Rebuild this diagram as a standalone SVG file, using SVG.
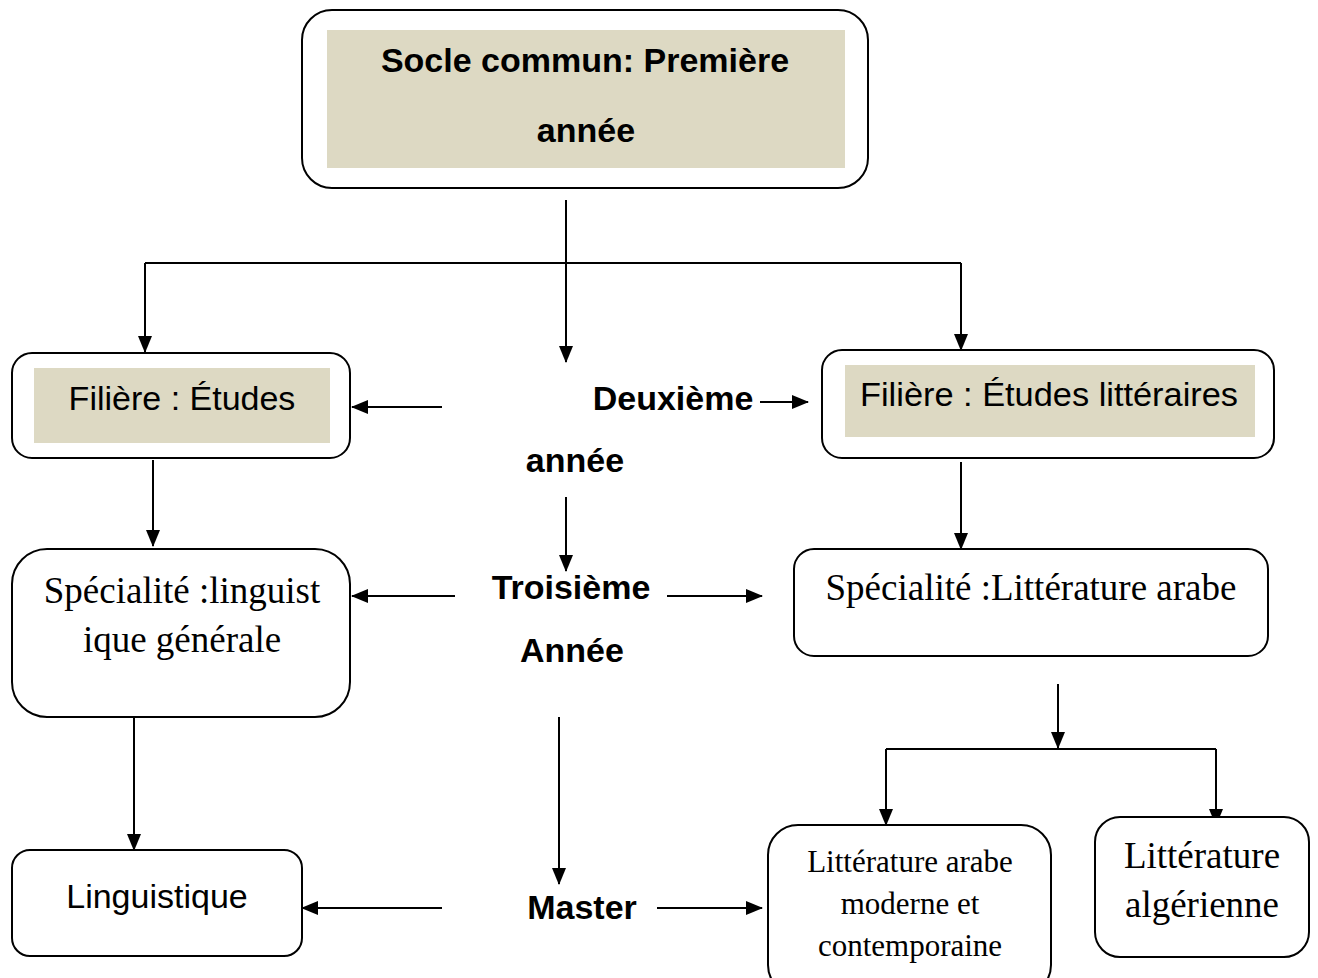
<svg xmlns="http://www.w3.org/2000/svg" width="1318" height="978" viewBox="0 0 1318 978">
<style>
.box{fill:#fff;stroke:#000;stroke-width:2}
.fill{fill:#DDD9C3}
.b{font-family:"Liberation Sans",Arial,sans-serif;font-weight:bold;font-size:34px;fill:#000}
.s{font-family:"Liberation Sans",Arial,sans-serif;font-size:34px;fill:#000}
.t{font-family:"Liberation Serif","Times New Roman",serif;font-size:37px;fill:#000}
.ln{fill:none;stroke:#000;stroke-width:2}
</style>
<defs>
<marker id="ah" viewBox="0 0 17 16" refX="16" refY="8" markerWidth="17" markerHeight="16" markerUnits="userSpaceOnUse" orient="auto">
<path d="M0,1 L17,8 L0,15 Z" fill="#000"/>
</marker>
</defs>
<rect width="1318" height="978" fill="#fff"/>

<g id="connectors">
<path class="ln" d="M566,200 V362" marker-end="url(#ah)"/>
<path class="ln" d="M145,263 H961"/>
<path class="ln" d="M145,263 V352" marker-end="url(#ah)"/>
<path class="ln" d="M961,263 V350" marker-end="url(#ah)"/>
<path class="ln" d="M442,407 H352" marker-end="url(#ah)"/>
<path class="ln" d="M760,402 H808" marker-end="url(#ah)"/>
<path class="ln" d="M153,460 V546" marker-end="url(#ah)"/>
<path class="ln" d="M961,462 V549" marker-end="url(#ah)"/>
<path class="ln" d="M566,497 V571" marker-end="url(#ah)"/>
<path class="ln" d="M455,596 H352" marker-end="url(#ah)"/>
<path class="ln" d="M667,596 H762" marker-end="url(#ah)"/>
<path class="ln" d="M1058,684 V748" marker-end="url(#ah)"/>
<path class="ln" d="M886,749 H1216"/>
<path class="ln" d="M886,749 V825" marker-end="url(#ah)"/>
<path class="ln" d="M1216,749 V825" marker-end="url(#ah)"/>
<path class="ln" d="M134,718 V850" marker-end="url(#ah)"/>
<path class="ln" d="M559,717 V884" marker-end="url(#ah)"/>
<path class="ln" d="M442,908 H302" marker-end="url(#ah)"/>
<path class="ln" d="M657,908 H762" marker-end="url(#ah)"/>
</g>

<g id="socle">
<rect class="box" x="302" y="10" width="566" height="178" rx="30"/>
<rect class="fill" x="327" y="30" width="518" height="138"/>
<text class="b" x="585" y="72" text-anchor="middle">Socle commun: Première</text>
<text class="b" x="586" y="142" text-anchor="middle">année</text>
</g>

<g id="filiere-etudes">
<rect class="box" x="12" y="353" width="338" height="105" rx="20"/>
<rect class="fill" x="34" y="368" width="296" height="75"/>
<text class="s" x="182" y="410" text-anchor="middle">Filière : Études</text>
</g>

<g id="deuxieme">
<text class="b" x="673" y="410" text-anchor="middle">Deuxième</text>
<text class="b" x="575" y="472" text-anchor="middle">année</text>
</g>

<g id="filiere-litt">
<rect class="box" x="822" y="350" width="452" height="108" rx="20"/>
<rect class="fill" x="845" y="365" width="410" height="72"/>
<text class="s" x="1049" y="406" text-anchor="middle" textLength="378" lengthAdjust="spacingAndGlyphs">Filière : Études littéraires</text>
</g>

<g id="troisieme">
<text class="b" x="571" y="599" text-anchor="middle">Troisième</text>
<text class="b" x="572" y="662" text-anchor="middle">Année</text>
</g>

<g id="spec-ling">
<rect class="box" x="12" y="549" width="338" height="168" rx="35"/>
<text class="t" x="182" y="603" text-anchor="middle">Spécialité :linguist</text>
<text class="t" x="182" y="652" text-anchor="middle">ique générale</text>
</g>

<g id="spec-litt">
<rect class="box" x="794" y="549" width="474" height="107" rx="20"/>
<text class="t" x="1031" y="600" text-anchor="middle">Spécialité :Littérature arabe</text>
</g>

<g id="linguistique">
<rect class="box" x="12" y="850" width="290" height="106" rx="18"/>
<text class="s" x="157" y="908" text-anchor="middle">Linguistique</text>
</g>

<g id="master">
<text class="b" x="582" y="919" text-anchor="middle">Master</text>
</g>

<g id="litt-moderne">
<rect class="box" x="768" y="825" width="283" height="170" rx="30"/>
<text class="t" x="910" y="872" text-anchor="middle" style="font-size:31px">Littérature arabe</text>
<text class="t" x="910" y="914" text-anchor="middle" style="font-size:31px">moderne et</text>
<text class="t" x="910" y="956" text-anchor="middle" style="font-size:31px">contemporaine</text>
</g>

<g id="litt-alg">
<rect class="box" x="1095" y="817" width="214" height="140" rx="25"/>
<text class="t" x="1202" y="868" text-anchor="middle">Littérature</text>
<text class="t" x="1202" y="917" text-anchor="middle">algérienne</text>
</g>
</svg>
